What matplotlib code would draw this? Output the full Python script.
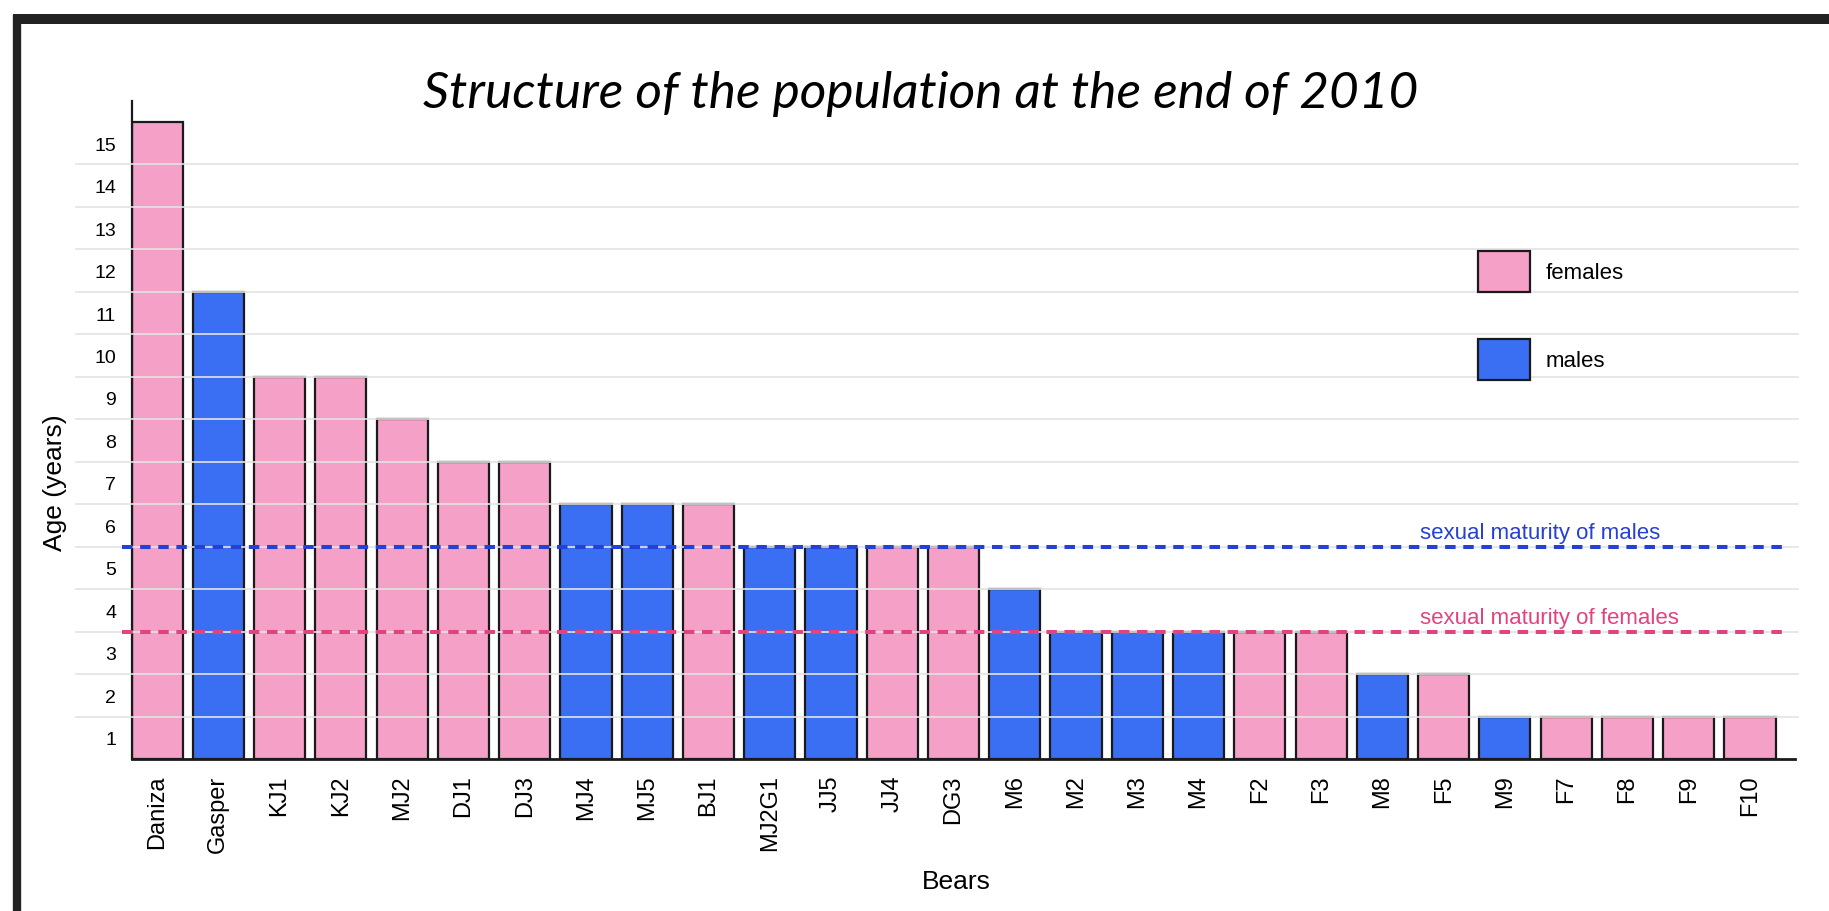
import matplotlib
matplotlib.use("Agg")
import matplotlib.pyplot as plt
from matplotlib.patches import Patch
from matplotlib.lines import Line2D
import matplotlib.transforms as mtransforms

# ---- data ----
bears = ['Daniza', 'Gasper', 'KJ1', 'KJ2', 'MJ2', 'DJ1', 'DJ3', 'MJ4', 'MJ5', 'BJ1',
         'MJ2G1', 'JJ5', 'JJ4', 'DG3', 'M6', 'M2', 'M3', 'M4', 'F2', 'F3',
         'M8', 'F5', 'M9', 'F7', 'F8', 'F9', 'F10']
ages = [15, 11, 9, 9, 8, 7, 7, 6, 6, 6,
        5, 5, 5, 5, 4, 3, 3, 3, 3, 3,
        2, 2, 1, 1, 1, 1, 1]
sexes = ['F', 'M', 'F', 'F', 'F', 'F', 'F', 'M', 'M', 'F',
         'M', 'M', 'F', 'F', 'M', 'M', 'M', 'M', 'F', 'F',
         'M', 'F', 'M', 'F', 'F', 'F', 'F']
ytick_labels = [str(i) for i in range(1, 16)]
maturity_males = 5
maturity_females = 3
legend_labels = ['females', 'males']

PINK = '#f4a0c7'
BLUE = '#3b6ff3'
LINE_BLUE = '#2540d4'
LINE_PINK = '#e0437e'

plt.rcParams['font.family'] = ['Liberation Sans', 'DejaVu Sans']

fig = plt.figure(figsize=(18.29, 9.12), dpi=100)
ax = fig.add_axes([131.5 / 1829, 1 - 760 / 912, 1663.5 / 1829, 658.3 / 912])

x = list(range(len(bears)))
colors = [PINK if s == 'F' else BLUE for s in sexes]
ax.bar(x, ages, width=0.835, color=colors, edgecolor='#1a1a1a', linewidth=1.6, zorder=2)

ax.set_xlim(-0.4175, len(bears) - 1 + 0.735)
ax.set_ylim(0, 15.5)

# gridlines at integer ages, drawn over bars
for g in range(1, 15):
    ax.axhline(g, xmin=-0.0334, xmax=1.002, color='#e3e3e3', lw=1.2, zorder=3, clip_on=False)

# maturity lines
ax.axhline(maturity_males, xmin=-0.006, xmax=0.996, color=LINE_BLUE, lw=2.9,
           dashes=(2.6, 1.9), zorder=4, clip_on=False)
ax.axhline(maturity_females, xmin=-0.006, xmax=0.996, color=LINE_PINK, lw=2.9,
           dashes=(2.6, 1.9), zorder=4, clip_on=False)
trans = mtransforms.blended_transform_factory(ax.transAxes, ax.transData)
ax.text(0.7745, maturity_males + 0.2, 'sexual maturity of males', color=LINE_BLUE,
        fontsize=16, transform=trans, va='baseline', ha='left', zorder=5)
ax.text(0.7745, maturity_females + 0.2, 'sexual maturity of females', color=LINE_PINK,
        fontsize=16, transform=trans, va='baseline', ha='left', zorder=5)

# ticks
ax.set_xticks(x)
ax.set_xticklabels(bears, rotation=90, fontsize=17)
ax.set_yticks([i - 0.5 for i in range(1, 16)])
ax.set_yticklabels(ytick_labels, fontsize=14)
ax.tick_params(axis='x', length=0, pad=11)
ax.tick_params(axis='y', length=0, pad=11)

for s in ['top', 'right']:
    ax.spines[s].set_visible(False)
ax.spines['left'].set_color('#1a1a1a')
ax.spines['left'].set_linewidth(1.6)
ax.spines['bottom'].set_color('#1a1a1a')
ax.spines['bottom'].set_linewidth(2.0)

ax.set_ylabel('Age (years)', fontsize=19)
ax.yaxis.set_label_coords(-0.0385, 0.422)
ax.set_xlabel('Bears', fontsize=19)
ax.xaxis.set_label_coords(0.496, -0.167)

# legend
handles = [Patch(facecolor=PINK, edgecolor='#1a1a1a', linewidth=1.6),
           Patch(facecolor=BLUE, edgecolor='#1a1a1a', linewidth=1.6)]
leg = ax.legend(handles, legend_labels, loc='upper left', fontsize=16, frameon=False,
                bbox_to_anchor=(1477.7 / 1829, 1 - 252 / 912), bbox_transform=fig.transFigure,
                borderpad=0, borderaxespad=0, handlelength=2.36, handleheight=2.45,
                labelspacing=2.13, handletextpad=0.7)
leg.set_zorder(6)

# title
fig.text(0.5036, 0.882, 'Structure of the population at the end of 2010',
         fontsize=37, family=['Lato', 'DejaVu Sans'], style='italic', ha='center', va='baseline')

# outer frame (top and left dark borders)
fig.add_artist(Line2D([13 / 1829, 1.0], [1 - 20 / 912, 1 - 20 / 912], color='#222222', lw=7.2,
                      transform=fig.transFigure, solid_capstyle='butt'))
fig.add_artist(Line2D([17 / 1829, 17 / 1829], [0.0, 1 - 16 / 912], color='#222222', lw=6.0,
                      transform=fig.transFigure, solid_capstyle='butt'))

fig.savefig('out.png', dpi=100)
